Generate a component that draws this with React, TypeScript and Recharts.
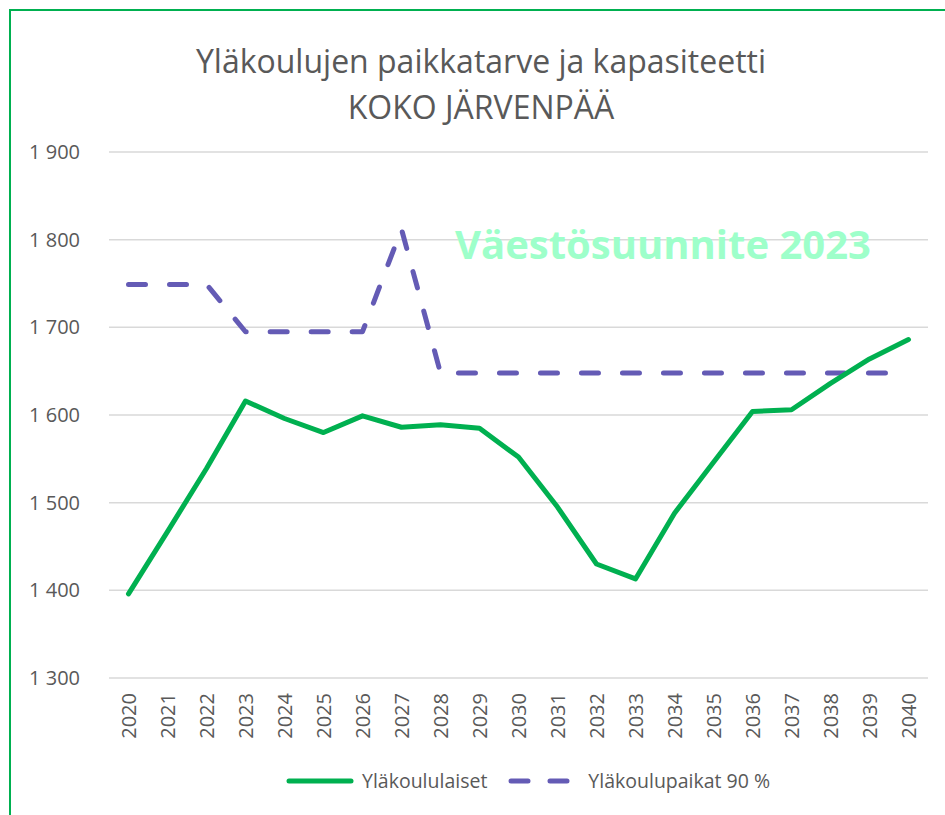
import { LineChart, Line, XAxis, YAxis, CartesianGrid, Legend } from 'recharts';

const years = [
    '2020', '2021', '2022', '2023', '2024', '2025', '2026', '2027', '2028', '2029', '2030',
    '2031', '2032', '2033', '2034', '2035', '2036', '2037', '2038', '2039', '2040',
];
const ylakoululaiset = [
    1396, 1467, 1539, 1616, 1596, 1580, 1599, 1586, 1589, 1585, 1552,
    1495, 1430, 1413, 1488, 1546, 1604, 1606, 1636, 1664, 1686,
];
const ylakoulupaikat = [
    1749, 1749, 1749, 1695, 1695, 1695, 1695, 1812, 1648, 1648, 1648,
    1648, 1648, 1648, 1648, 1648, 1648, 1648, 1648, 1648, 1648,
];
const yTicks = [1300, 1400, 1500, 1600, 1700, 1800, 1900];

const GREEN = '#00b050';
const PURPLE = '#645bb5';
const TEXT = '#595959';
const FONT = '"Open Sans", sans-serif';

const data = years.map((year, i) => ({
    year,
    ylakoululaiset: ylakoululaiset[i],
    ylakoulupaikat: ylakoulupaikat[i],
}));

function YearTick({ x, y, payload }: any) {
    return (
        <text
            x={x}
            y={y}
            transform={`rotate(-90, ${x}, ${y})`}
            textAnchor="end"
            dominantBaseline="central"
            fill={TEXT}
            fontSize={20}
            fontFamily={FONT}
        >
            {payload.value}
        </text>
    );
}

function LegendContent() {
    return (
        <div
            style={{
                display: 'flex',
                alignItems: 'center',
                justifyContent: 'flex-start',
                fontFamily: FONT,
                fontSize: 19.5,
                color: TEXT,
                paddingLeft: 285,
            }}
        >
            <svg width={70} height={10} style={{ marginRight: 7 }}>
                <line x1={4} y1={5} x2={66} y2={5} stroke={GREEN} strokeWidth={5} strokeLinecap="round" />
            </svg>
            <span>Yläkoululaiset</span>
            <svg width={66} height={10} style={{ marginLeft: 21, marginRight: 14 }}>
                <line
                    x1={3}
                    y1={5}
                    x2={63}
                    y2={5}
                    stroke={PURPLE}
                    strokeWidth={5}
                    strokeLinecap="round"
                    strokeDasharray="17 22"
                />
            </svg>
            <span>Yläkoulupaikat 90 %</span>
        </div>
    );
}

export default function App() {
    return (
        <div
            style={{
                position: 'absolute',
                left: 0,
                top: 0,
                width: 945,
                height: 815,
                background: 'white',
                overflow: 'hidden',
            }}
        >
            <div
                style={{
                    position: 'absolute',
                    left: 9,
                    top: 9,
                    width: 1000,
                    height: 1000,
                    borderLeft: `2px solid ${GREEN}`,
                    borderTop: `2px solid ${GREEN}`,
                }}
            />
            <div
                style={{
                    position: 'absolute',
                    left: 131,
                    top: 38,
                    width: 700,
                    textAlign: 'center',
                    fontFamily: FONT,
                    fontSize: 32,
                    lineHeight: '46px',
                    color: TEXT,
                }}
            >
                Yläkoulujen paikkatarve ja kapasiteetti
                <br />
                KOKO JÄRVENPÄÄ
            </div>
            <div style={{ position: 'absolute', left: 0, top: 0 }}>
                <LineChart
                    width={945}
                    height={815}
                    data={data}
                    margin={{ top: 152, right: 17, left: 0, bottom: 0 }}
                >
                    <CartesianGrid vertical={false} stroke="#d9d9d9" strokeWidth={1.5} />
                    <XAxis
                        dataKey="year"
                        axisLine={false}
                        tickLine={false}
                        interval={0}
                        height={137}
                        tickSize={0}
                        tickMargin={15}
                        padding={{ left: 19.5, right: 19.5 }}
                        tick={<YearTick />}
                    />
                    <YAxis
                        domain={[1300, 1900]}
                        ticks={yTicks}
                        axisLine={false}
                        tickLine={false}
                        tickSize={0}
                        tickMargin={29}
                        width={109}
                        tick={{ fill: TEXT, fontSize: 20, fontFamily: FONT }}
                        tickFormatter={(v) => `${Math.floor(v / 1000)} ${String(v % 1000).padStart(3, '0')}`}
                    />
                    <Legend
                        layout="horizontal"
                        verticalAlign="middle"
                        align="center"
                        wrapperStyle={{ top: 767, left: 0, width: 945 }}
                        content={<LegendContent />}
                    />
                    <Line
                        type="linear"
                        dataKey="ylakoulupaikat"
                        name="Yläkoulupaikat 90 %"
                        stroke={PURPLE}
                        strokeWidth={5}
                        strokeLinecap="round"
                        strokeLinejoin="round"
                        strokeDasharray="17 24"
                        dot={false}
                        activeDot={false}
                        isAnimationActive={false}
                    />
                    <Line
                        type="linear"
                        dataKey="ylakoululaiset"
                        name="Yläkoululaiset"
                        stroke={GREEN}
                        strokeWidth={5}
                        strokeLinecap="round"
                        strokeLinejoin="round"
                        dot={false}
                        activeDot={false}
                        isAnimationActive={false}
                    />
                </LineChart>
            </div>
            <div
                style={{
                    position: 'absolute',
                    left: 455,
                    top: 216,
                    fontFamily: FONT,
                    fontWeight: 700,
                    fontSize: 40,
                    color: '#9effca',
                    whiteSpace: 'nowrap',
                    pointerEvents: 'none',
                }}
            >
                Väestösuunnite 2023
            </div>
        </div>
    );
}
